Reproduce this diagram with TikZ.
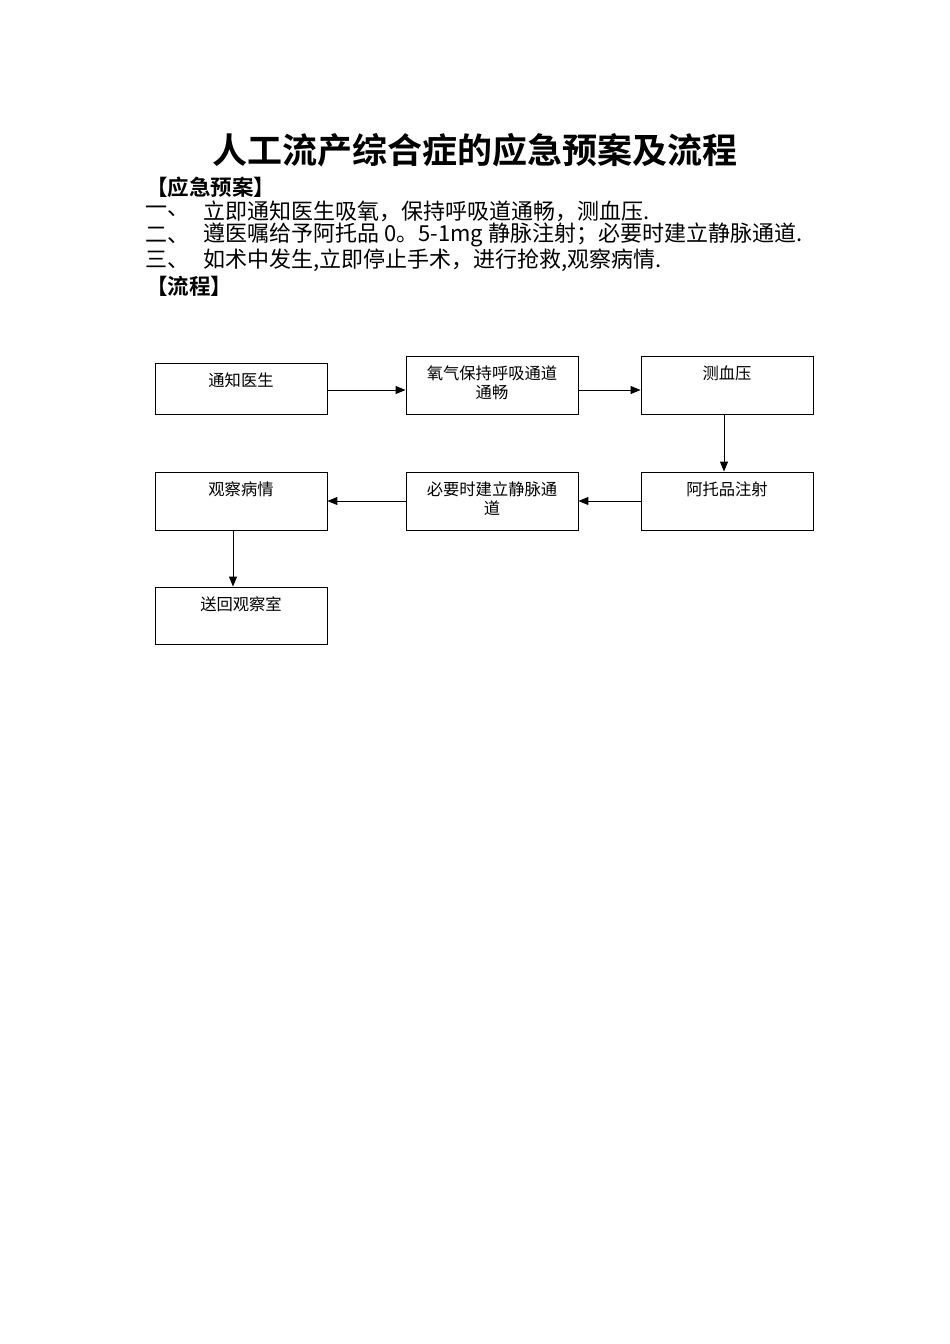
\documentclass[tikz,border=0pt]{standalone}
\usepackage{fontspec}
\setmainfont{Noto Sans CJK SC}
\newfontfamily\cjkb{Noto Sans CJK SC Bold}
\usetikzlibrary{arrows.meta}
\tikzset{
  box/.style={draw=black, line width=0.9pt, rectangle, minimum width=172pt, inner sep=0pt},
  boxtext/.style={anchor=north, yshift=-7pt, align=center, font=\fontsize{16.3}{19}\selectfont},
  flow/.style={line width=1pt, -{Triangle[length=10pt,width=8pt]}},
  bodyline/.style={anchor=west, inner sep=0pt, font=\fontsize{22}{22}\selectfont},
}
\begin{document}
\begin{tikzpicture}[x=1pt,y=-1pt]
\useasboundingbox[fill=white] (0,0) rectangle (950,1344);
\node[inner sep=0pt, font=\cjkb\fontsize{35}{35}\selectfont] (title) at (475,150) {人工流产综合症的应急预案及流程};
\node[bodyline, font=\cjkb\fontsize{21.5}{21.5}\selectfont] (h1) at (146,187) {【应急预案】};
\node[bodyline] (n1) at (145,211) {一、};
\node[bodyline] (l1) at (203,211) {立即通知医生吸氧，保持呼吸道通畅，测血压.};
\node[bodyline] (n2) at (145,235) {二、};
\node[bodyline] (l2) at (203,235) {遵医嘱给予阿托品 0。5-1mg 静脉注射；必要时建立静脉通道.};
\node[bodyline] (n3) at (145,260) {三、};
\node[bodyline] (l3) at (203,260) {如术中发生,立即停止手术，进行抢救,观察病情.};
\node[bodyline, font=\cjkb\fontsize{21.5}{21.5}\selectfont] (h2) at (146,286) {【流程】};

\node[box, minimum height=51pt, label={[boxtext]north:通知医生}] (b1) at (241,388.5) {};
\node[box, minimum height=58pt, label={[boxtext]north:氧气保持呼吸通道\\通畅}] (b2) at (492,385) {};
\node[box, minimum height=58pt, label={[boxtext]north:测血压}] (b3) at (727,385) {};
\node[box, minimum height=58pt, label={[boxtext]north:观察病情}] (b4) at (241,501) {};
\node[box, minimum height=58pt, label={[boxtext]north:必要时建立静脉通\\道}] (b5) at (492,501) {};
\node[box, minimum height=58pt, label={[boxtext]north:阿托品注射}] (b6) at (727,501) {};
\node[box, minimum height=57pt, label={[boxtext]north:送回观察室}] (b7) at (241,615.5) {};

\draw[flow] ([yshift=-1.5pt]b1.east) -- ([yshift=-5pt]b2.west);
\draw[flow] ([yshift=-5pt]b2.east) -- ([yshift=-5pt]b3.west);
\draw[flow] ([xshift=-3pt]b3.south) -- ([xshift=-3pt]b6.north);
\draw[flow] (b6.west) -- (b5.east);
\draw[flow] (b5.west) -- (b4.east);
\draw[flow] ([xshift=-8pt]b4.south) -- ([xshift=-8pt]b7.north);
\end{tikzpicture}
\end{document}
